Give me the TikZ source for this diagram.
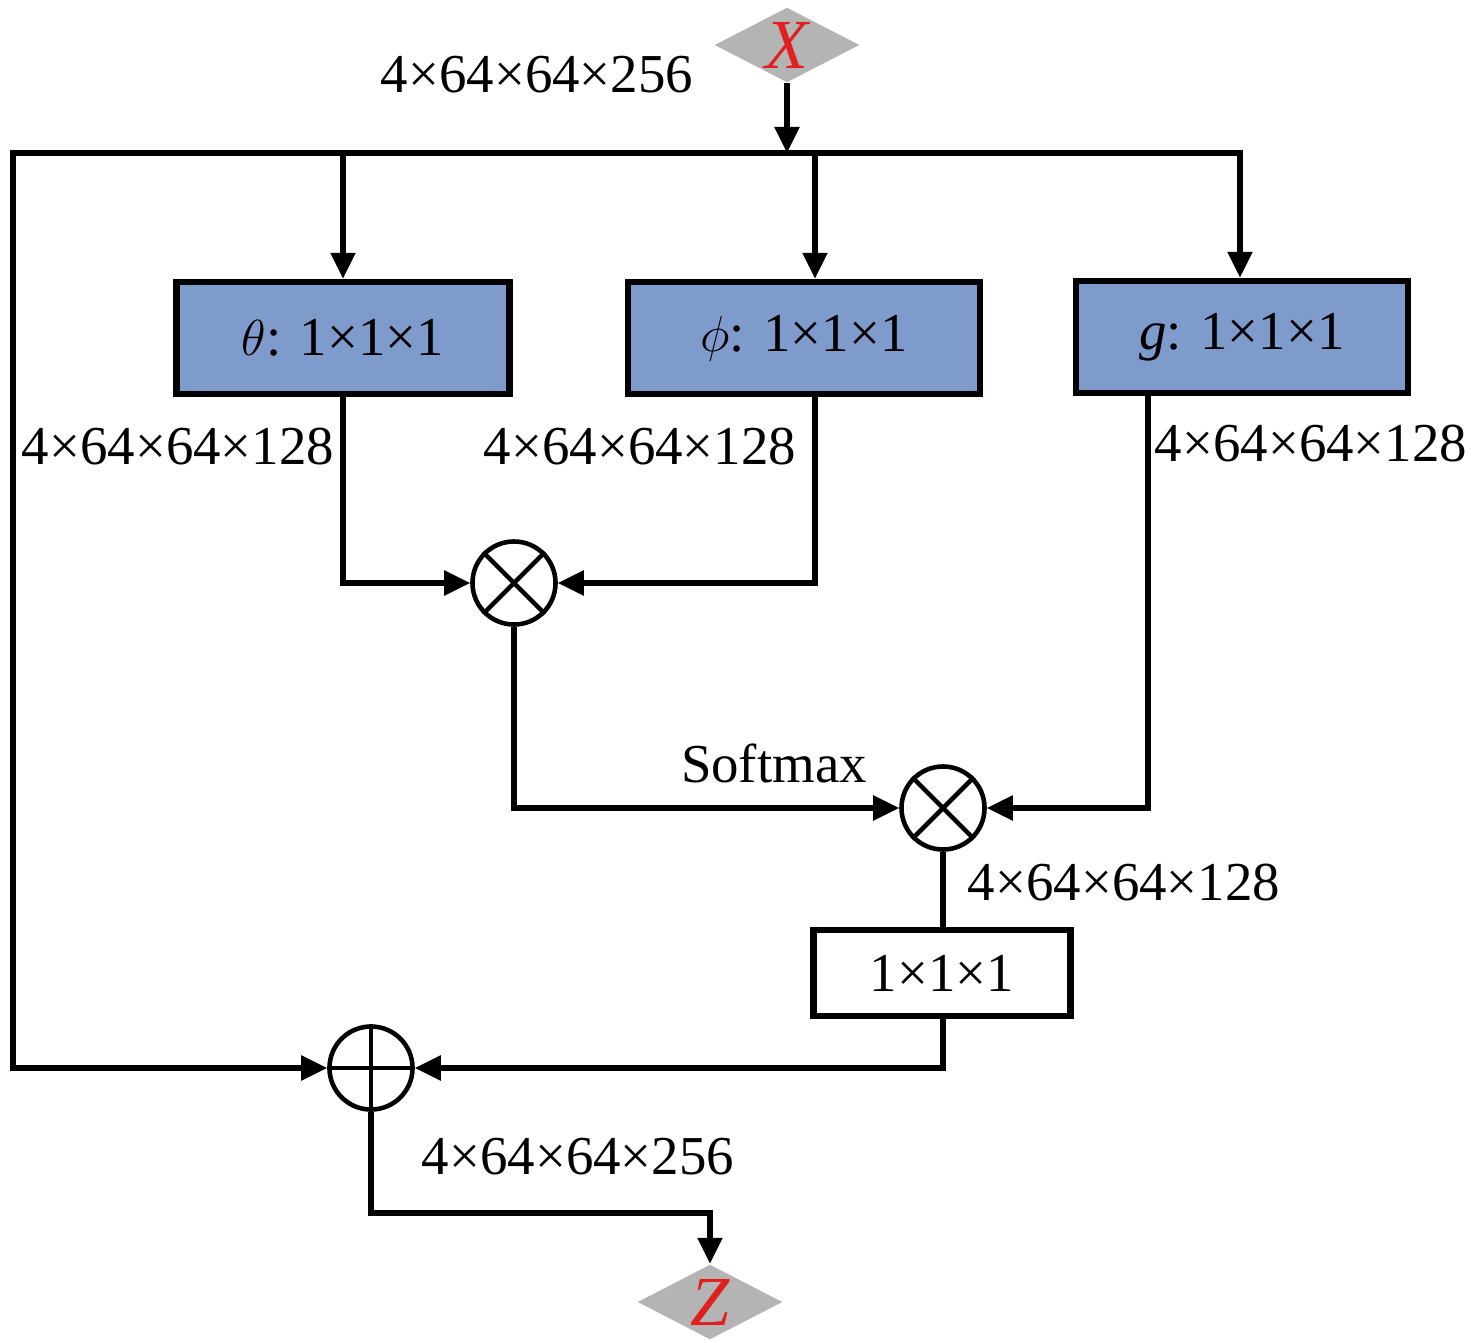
\documentclass[tikz,border=0pt]{standalone}
\usepackage{fontspec}
\setmainfont{Liberation Serif}
\usetikzlibrary{arrows.meta,shapes.geometric}
\definecolor{boxblue}{HTML}{7F9BCB}
\definecolor{diagray}{HTML}{B4B4B4}
\definecolor{xred}{HTML}{E0201F}
\begin{document}
\begin{tikzpicture}[x=0.01cm,y=-0.01cm,
  font=\fontsize{15.6}{18}\selectfont,
  ln/.style={line width=1.5pt, line join=miter},
  arr/.style={ln,-{Triangle[length=0.26cm,width=0.24cm]}},
  arrboth/.style={ln,{Triangle[length=0.26cm,width=0.24cm]}-{Triangle[length=0.26cm,width=0.24cm]}},
  conv/.style={draw, line width=1.8pt, fill=boxblue, minimum height=1.12cm, inner sep=0},
  plainbox/.style={draw, line width=1.8pt, fill=white, minimum width=2.57cm, minimum height=0.86cm, inner sep=0},
  dia/.style={diamond, fill=diagray, aspect=1.9, minimum width=1.45cm, minimum height=0.75cm, inner sep=0, text=xred, font=\fontsize{20}{22}\selectfont\itshape},
  op/.style={circle, draw, line width=1.3pt, minimum size=0.83cm, inner sep=0},
  lbl/.style={inner sep=0}]
\useasboundingbox (0,0) rectangle (1476,1343);

% nodes
\node[dia] (X) at (787,45) {X};
\node[dia] (Z) at (710,1302) {Z};
\node[conv, minimum width=3.33cm] (theta) at (343,338) {$\theta$: 1×1×1};
\node[conv, minimum width=3.52cm] (phi) at (804,338) {$\phi$: 1×1×1};
\node[conv, minimum width=3.32cm] (g) at (1242,337) {\textit{g}: 1×1×1};
\node[op] (ot1) at (514,583) {};
\node[op] (ot2) at (943,808) {};
\node[op] (opl) at (371,1068) {};
\node[plainbox] (b11) at (942,973) {1×1×1};

% cross / plus marks
\draw[line width=1.3pt] (ot1.north west) -- (ot1.south east) (ot1.north east) -- (ot1.south west);
\draw[line width=1.3pt] (ot2.north west) -- (ot2.south east) (ot2.north east) -- (ot2.south west);
\draw[line width=1.3pt] (opl.north) -- (opl.south) (opl.west) -- (opl.east);

% coordinates
\coordinate (top) at (787,153);
\coordinate (tl) at (13,153);
\coordinate (tr) at (1240,153);
\coordinate (tb) at (343,153);
\coordinate (pb) at (815,153);
\coordinate (pout) at (815,394);
\coordinate (gout) at (1148,396);
\coordinate (zturn) at (371,1213);

% connectors
\draw[arr] (X.south) -- (top);
\draw[arrboth] (opl.west) -| (tl) -- (tr) -- (tr |- g.north);
\draw[arr] (tb) -- (tb |- theta.north);
\draw[arr] (pb) -- (pb |- phi.north);
\draw[arr] (tb |- theta.south) |- (ot1.west);
\draw[arr] (pout) |- (ot1.east);
\draw[arr] (ot1.south) |- (ot2.west);
\draw[arr] (gout) |- (ot2.east);
\draw[ln] (ot2.south) -- (b11.north -| ot2.south);
\draw[arr] (b11.south -| ot2.south) |- (opl.east);
\draw[arr] (opl.south) -- (zturn) -| (Z.north);

% labels
\node[lbl] (l1) at (537,75) {4×64×64×256};
\node[lbl] (l2) at (178,447) {4×64×64×128};
\node[lbl] (l3) at (640,447) {4×64×64×128};
\node[lbl] (l4) at (1311,444) {4×64×64×128};
\node[lbl] (l5) at (774,763) {Softmax};
\node[lbl] (l6) at (1124,883) {4×64×64×128};
\node[lbl] (l7) at (578,1157) {4×64×64×256};
\end{tikzpicture}
\end{document}
